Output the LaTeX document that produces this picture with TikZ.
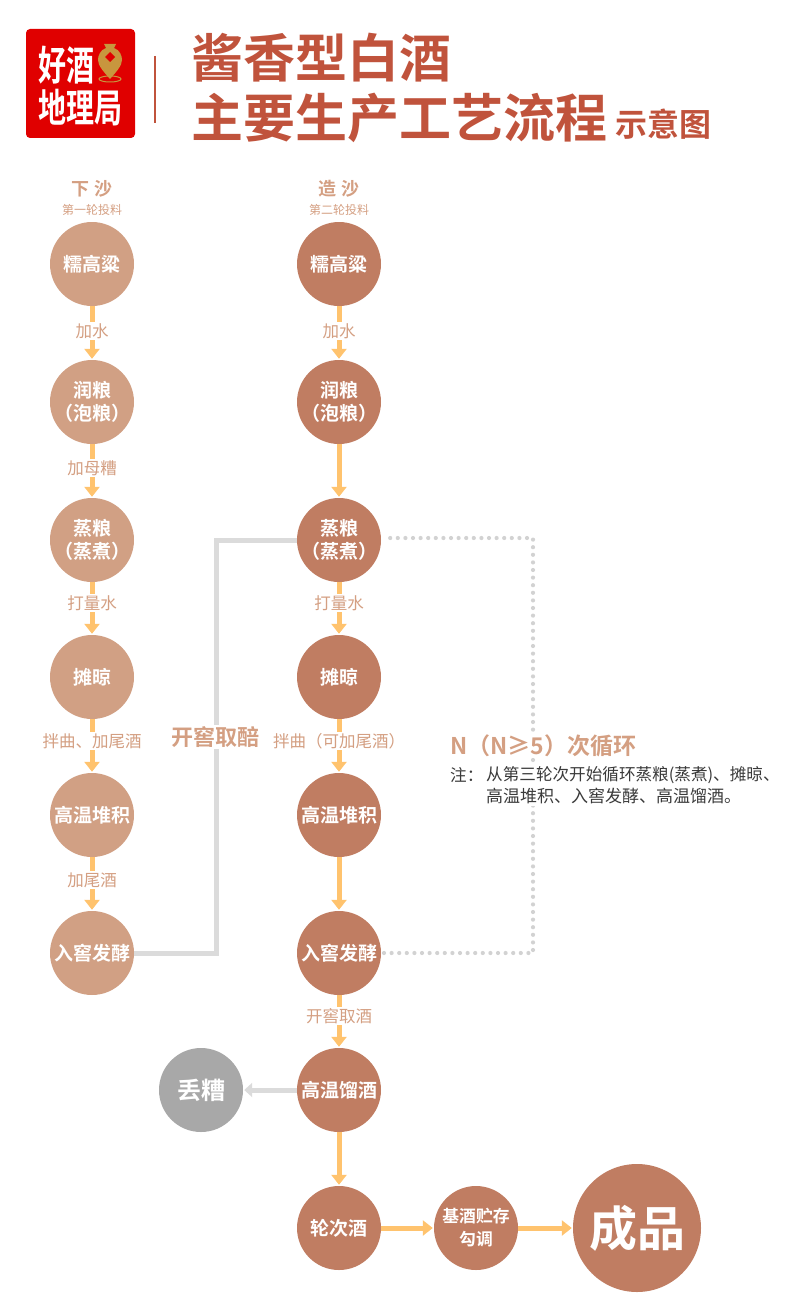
\documentclass[tikz,border=0pt]{standalone}
\usepackage{fontspec}
\setmainfont{Noto Sans CJK SC}[BoldFont={Noto Sans CJK SC Bold}]
\usetikzlibrary{arrows.meta,calc}
\definecolor{lightc}{HTML}{D1A084}
\definecolor{darkc}{HTML}{C07D62}
\definecolor{greyc}{HTML}{A8A8A8}
\definecolor{arrowc}{HTML}{FFC36E}
\definecolor{linec}{HTML}{DBDBDB}
\definecolor{dotc}{HTML}{D2D2D2}
\definecolor{titlec}{HTML}{C0533C}
\definecolor{labelc}{HTML}{D49F82}
\definecolor{redc}{HTML}{E00000}
\definecolor{goldc}{HTML}{C8963E}
\definecolor{notec}{HTML}{3A3A3A}
\tikzset{
 x=1pt,y=-1pt,
 circ/.style={circle,minimum size=84pt,inner sep=-6pt,align=center,text=white,font=\bfseries\fontsize{19}{23}\selectfont},
 lightn/.style={circ,fill=lightc},
 darkn/.style={circ,fill=darkc},
 flow/.style={draw=arrowc,line width=5pt,-{Triangle[length=10pt,width=15pt]},shorten >=1pt},
 grayflow/.style={draw=linec,line width=5pt,-{Triangle[length=8pt,width=14pt]},shorten >=1pt},
 edgelabel/.style={fill=white,inner ysep=1.5pt,inner xsep=1pt,text=labelc,font=\fontsize{16.5}{18}\selectfont},
 head/.style={text=labelc,font=\bfseries\fontsize{18}{20}\selectfont},
 subhead/.style={text=labelc,font=\fontsize{12}{13}\selectfont},
 title/.style={text=titlec,anchor=west,inner sep=0pt,font=\bfseries\fontsize{52}{52}\selectfont},
 smalltitle/.style={text=titlec,anchor=west,inner sep=0pt,font=\bfseries\fontsize{32}{32}\selectfont},
 logotext/.style={text=white,inner sep=0pt,anchor=west,font=\bfseries\fontsize{28}{28}\selectfont},
 note/.style={text=notec,anchor=west,inner sep=0pt,fill=white,inner ysep=2pt,font=\fontsize{16.6}{18}\selectfont},
 dotline/.style={draw=dotc,line width=4.2pt,line cap=round,dash pattern=on 0pt off 7.6pt},
}
\begin{document}
\begin{tikzpicture}
\useasboundingbox (0,0) rectangle (800,1311);
% logo
\fill[redc,rounded corners=4pt] (26,29) rectangle (135,138);
\node[logotext] (lg1) at (38,65) {\scalebox{1}[1.45]{好酒}};
\node[logotext] (lg2) at (38,108) {\scalebox{1}[1.4]{地理局}};
\fill[goldc] (104,44) -- (116,44) -- (114,48) .. controls (120,50) and (122,56) .. (122,60)
  .. controls (122,66) and (116,72) .. (110,79) .. controls (104,72) and (98,66) .. (98,60)
  .. controls (98,56) and (100,50) .. (106,48) -- cycle;
\fill[redc] (110,52) -- (115,57) -- (110,62) -- (105,57) -- cycle;
\draw[goldc,line width=1pt] (110,79) ellipse (11pt and 3pt);
\draw[titlec,line width=1.6pt] (155,56) -- (155,123);
% title
\node[title] (t1) at (191,58) {酱香型白酒};
\node[title] (t2) at (191,118) {主要生产工艺流程};
\node[smalltitle] (t3) at (615,124) {示意图};
% column headings
\node[head] (h1) at (92,189) {下 沙};
\node[subhead] (s1) at (92,210) {第一轮投料};
\node[head] (h2) at (339,189) {造 沙};
\node[subhead] (s2) at (339,210) {第二轮投料};
% left column
\node[lightn] (a1) at (92,264) {糯高粱};
\node[lightn] (a2) at (92,402) {润粮\\（泡粮）};
\node[lightn] (a3) at (92,540) {蒸粮\\（蒸煮）};
\node[lightn] (a4) at (92,677) {摊晾};
\node[lightn] (a5) at (92,815) {高温堆积};
\node[lightn] (a6) at (92,953) {入窖发酵};
% right column
\node[darkn] (b1) at (339,264) {糯高粱};
\node[darkn] (b2) at (339,402) {润粮\\（泡粮）};
\node[darkn] (b3) at (339,540) {蒸粮\\（蒸煮）};
\node[darkn] (b4) at (339,677) {摊晾};
\node[darkn] (b5) at (339,815) {高温堆积};
\node[darkn] (b6) at (339,953) {入窖发酵};
\node[darkn] (b7) at (339,1090) {高温馏酒};
\node[darkn] (b8) at (339,1228) {轮次酒};
\node[circ,fill=greyc,font=\bfseries\fontsize{24}{26}\selectfont] (g) at (201,1090) {丢糟};
\node[darkn,font=\bfseries\fontsize{16.8}{23}\selectfont] (c) at (476,1228) {基酒贮存\\勾调};
\node[darkn,minimum size=128pt,font=\bfseries\fontsize{48}{50}\selectfont] (d) at (637,1228) {成品};
% flows
\foreach \p/\q in {a1/a2,a2/a3,a3/a4,a4/a5,a5/a6,b1/b2,b2/b3,b3/b4,b4/b5,b5/b6,b6/b7,b7/b8,b8/c,c/d}
  \draw[flow] (\p) -- (\q);
\draw[grayflow] (b7) -- (g);
\coordinate (p1) at (216,953);
\coordinate (p2) at (216,540);
\draw[linec,line width=5pt] (a6) -- (p1) -- (p2) -- (b3);
\coordinate (q1) at (384,953);
\coordinate (q2) at (533,953);
\coordinate (q3) at (533,538);
\coordinate (q4) at (384,538);
\draw[dotline] (q1) -- (q2) -- (q3) -- (q4);
% edge labels
\node[edgelabel] (l1) at (92,331) {加水};
\node[edgelabel] (l2) at (92,468) {加母糟};
\node[edgelabel] (l3) at (92,603) {打量水};
\node[edgelabel] (l4) at (92,741) {拌曲、加尾酒};
\node[edgelabel] (l5) at (92,880) {加尾酒};
\node[edgelabel] (l6) at (339,331) {加水};
\node[edgelabel] (l7) at (339,603) {打量水};
\node[edgelabel] (l8) at (339,741) {拌曲（可加尾酒）};
\node[edgelabel] (l9) at (339,1016) {开窖取酒};
\node[edgelabel,font=\bfseries\fontsize{22}{24}\selectfont,inner xsep=3pt] (l10) at (215,737) {开窖取醅};
% loop note
\node[anchor=west,inner sep=0pt,text=labelc,font=\bfseries\fontsize{23}{24}\selectfont,fill=white] (n1) at (450,746) {N（N≥5）次循环};
\node[note] (n2) at (450,775) {注：};
\node[note] (n2b) at (486,775) {从第三轮次开始循环蒸粮(蒸煮)、摊晾、};
\node[note,font=\fontsize{17}{18}\selectfont] (n3) at (486,796) {高温堆积、入窖发酵、高温馏酒。};
\end{tikzpicture}
\end{document}
